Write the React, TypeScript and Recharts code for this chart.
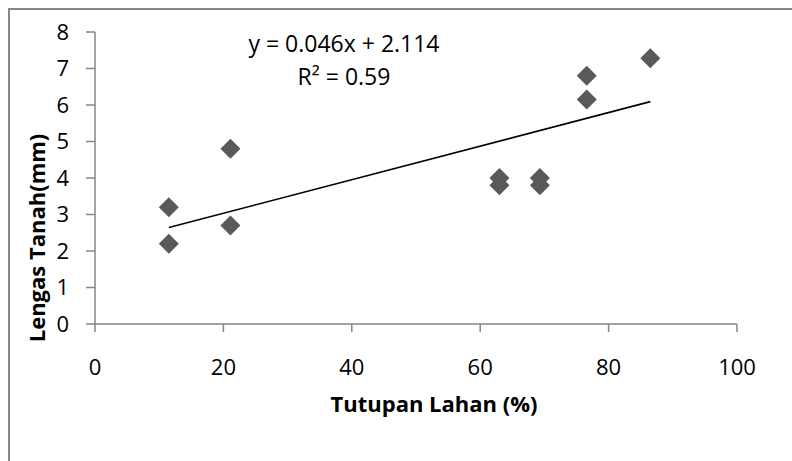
import { ScatterChart, Scatter, XAxis, YAxis } from "recharts"

// Tutupan lahan (%) vs lengas tanah (mm)
const coverPct = [11.5, 11.5, 21.1, 21.1, 63.0, 63.0, 69.3, 69.3, 76.6, 76.6, 86.5]
const moistureMm = [3.2, 2.2, 4.8, 2.7, 4.0, 3.8, 4.0, 3.8, 6.8, 6.15, 7.28]

const xTicks = [0, 20, 40, 60, 80, 100]
const yTicks = [0, 1, 2, 3, 4, 5, 6, 7, 8]

// linear trendline y = 0.046x + 2.114
const slope = 0.046
const intercept = 2.114
const trendX = [11.5, 86.5]

const points = coverPct.map((x, i) => ({ x, y: moistureMm[i] }))
const trend = trendX.map((x) => ({ x, y: slope * x + intercept }))

const FONT = "'Open Sans', sans-serif"
const AXIS = "#868686"

function Diamond(props: any) {
  const { cx, cy } = props
  const r = 10
  return (
    <polygon
      points={`${cx},${cy - r} ${cx + r},${cy} ${cx},${cy + r} ${cx - r},${cy}`}
      fill="#595959"
    />
  )
}

export default function App() {
  return (
    <div style={{ position: "absolute", left: 0, top: 0, width: 792, height: 461, background: "#fff", overflow: "hidden" }}>
      <div
        style={{
          position: "absolute",
          left: 8,
          top: 8,
          width: 820,
          height: 480,
          borderTop: `2px solid ${AXIS}`,
          borderLeft: `2px solid ${AXIS}`,
        }}
      />
      <div style={{ position: "absolute", left: 0, top: 0 }}>
        <ScatterChart width={792} height={461} margin={{ top: 32, right: 55, bottom: 77, left: 35 }}>
          <XAxis
            type="number"
            dataKey="x"
            domain={[0, 100]}
            ticks={xTicks}
            interval={0}
            height={60}
            tickSize={8}
            tickMargin={27}
            axisLine={{ stroke: AXIS, strokeWidth: 1.5 }}
            tickLine={{ stroke: AXIS, strokeWidth: 1.5 }}
            tick={{ fill: "#000", fontSize: 22, fontFamily: FONT }}
          />
          <YAxis
            type="number"
            dataKey="y"
            domain={[0, 8]}
            ticks={yTicks}
            interval={0}
            width={60}
            tickSize={9}
            tickMargin={17}
            axisLine={{ stroke: AXIS, strokeWidth: 1.5 }}
            tickLine={{ stroke: AXIS, strokeWidth: 1.5 }}
            tick={{ fill: "#000", fontSize: 22, fontFamily: FONT }}
          />
          <Scatter data={trend} line={{ stroke: "#000", strokeWidth: 1.6 }} shape={() => null} isAnimationActive={false} />
          <Scatter data={points} shape={Diamond} isAnimationActive={false} />
          <text x={344} y={43} textAnchor="middle" dominantBaseline="central" fontSize={23} fontFamily={FONT} fill="#000">
            y = 0.046x + 2.114
          </text>
          <text x={344} y={76} textAnchor="middle" dominantBaseline="central" fontSize={23} fontFamily={FONT} fill="#000">
            R² = 0.59
          </text>
          <text x={434} y={403} textAnchor="middle" dominantBaseline="central" fontSize={22} fontWeight="bold" fontFamily={FONT} fill="#000">
            Tutupan Lahan (%)
          </text>
          <text
            x={36}
            y={238}
            textAnchor="middle"
            dominantBaseline="central"
            fontSize={22}
            fontWeight="bold"
            fontFamily={FONT}
            fill="#000"
            transform="rotate(-90 36 238)"
          >
            Lengas Tanah(mm)
          </text>
        </ScatterChart>
      </div>
    </div>
  )
}
